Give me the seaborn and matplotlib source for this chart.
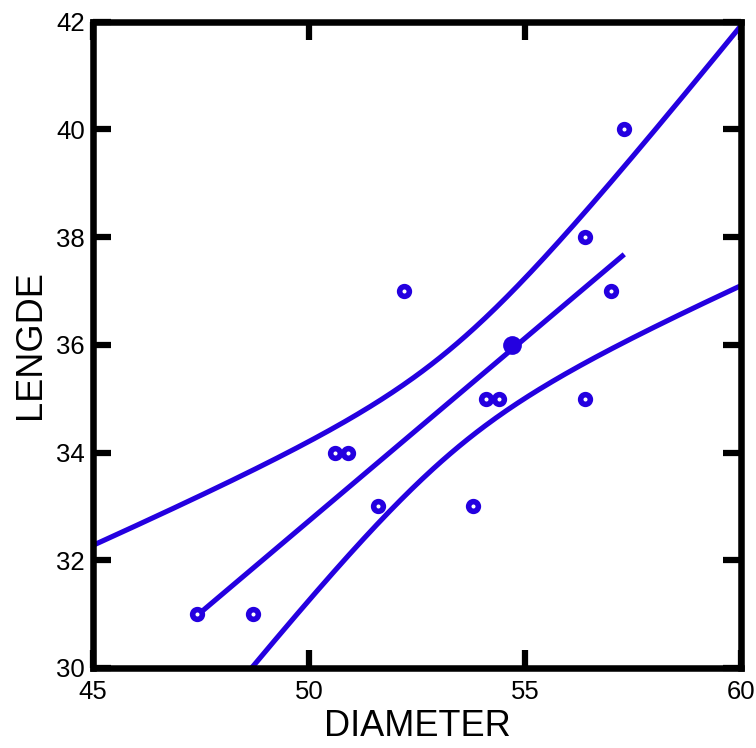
import numpy as np
import pandas as pd
import matplotlib
matplotlib.use("Agg")
import matplotlib.pyplot as plt
import seaborn as sns

# Measurements: stem diameter against length
diameter = [47.4, 48.7, 50.6, 50.9, 51.6, 52.2, 53.8, 54.1, 54.4, 54.7, 56.4, 56.4, 57.0, 57.3]
lengde = [31, 31, 34, 34, 33, 37, 33, 35, 35, 36, 38, 35, 37, 40]
antall = [1, 1, 1, 1, 1, 1, 1, 1, 1, 2, 1, 1, 1, 1]   # observations per plotted point

x_ticks = [45, 50, 55, 60]
y_ticks = [30, 32, 34, 36, 38, 40, 42]

BLUE = "#2400E0"

sns.set_theme(style="white")
plt.rcParams["font.family"] = ["Liberation Sans", "DejaVu Sans"]

df = pd.DataFrame({"DIAMETER": diameter, "LENGDE": lengde, "n": antall})
obs = df.loc[df.index.repeat(df["n"])].reset_index(drop=True)

# Least-squares fit with a confidence band for the mean response
xv = obs["DIAMETER"].to_numpy(float)
yv = obs["LENGDE"].to_numpy(float)
nobs = len(xv)
slope, intercept = np.polyfit(xv, yv, 1)
resid = yv - (intercept + slope * xv)
s = np.sqrt(np.sum(resid ** 2) / (nobs - 2))
sxx = np.sum((xv - xv.mean()) ** 2)
t_crit = 2.60  # two-sided 97.5%, 13 degrees of freedom
grid = np.linspace(x_ticks[0], x_ticks[-1], 300)
fit = intercept + slope * grid
half = t_crit * s * np.sqrt(1.0 / nobs + (grid - xv.mean()) ** 2 / sxx)
band = pd.DataFrame({"x": grid, "lower": fit - half, "upper": fit + half})

fig = plt.figure(figsize=(7.56, 7.48), dpi=100)
ax = fig.add_axes([0.123, 0.107, 0.857, 0.864])

sns.regplot(data=obs, x="DIAMETER", y="LENGDE", scatter=False, ci=None,
            color=BLUE, line_kws={"lw": 3.7, "solid_capstyle": "butt"}, ax=ax)
sns.lineplot(data=band, x="x", y="lower", color=BLUE, lw=3.7, ax=ax)
sns.lineplot(data=band, x="x", y="upper", color=BLUE, lw=3.7, ax=ax)

single = df[df["n"] == 1]
multi = df[df["n"] > 1]
sns.scatterplot(data=single, x="DIAMETER", y="LENGDE", marker="o", s=7.0 ** 2,
                facecolor="white", edgecolor=BLUE, linewidth=4.0, zorder=5, ax=ax)
if len(multi):
    sns.scatterplot(data=multi, x="DIAMETER", y="LENGDE", marker="o", s=13.5 ** 2,
                    color=BLUE, edgecolor=BLUE, linewidth=0, zorder=5, ax=ax)

ax.set_xlim(x_ticks[0], x_ticks[-1])
ax.set_ylim(y_ticks[0], y_ticks[-1])
ax.set_xticks(x_ticks)
ax.set_yticks(y_ticks)
ax.set_xticklabels([str(v) for v in x_ticks])
ax.set_yticklabels([str(v) for v in y_ticks])

for sp in ax.spines.values():
    sp.set_visible(True)
    sp.set_color("black")
    sp.set_linewidth(4.7)

ax.tick_params(axis="both", which="major", direction="in", length=13, width=4.5,
               color="black", bottom=True, left=True, top=True, right=True,
               labelsize=18.5, labelcolor="black")
ax.tick_params(axis="y", pad=6)
ax.tick_params(axis="x", pad=9)

ax.set_xlabel("DIAMETER", fontsize=26, color="black", labelpad=3)
ax.set_ylabel("LENGDE", fontsize=26, color="black", labelpad=6)
ax.grid(False)
ax.set_facecolor("white")
fig.patch.set_facecolor("white")

fig.savefig("out.png", dpi=100, facecolor="white")
